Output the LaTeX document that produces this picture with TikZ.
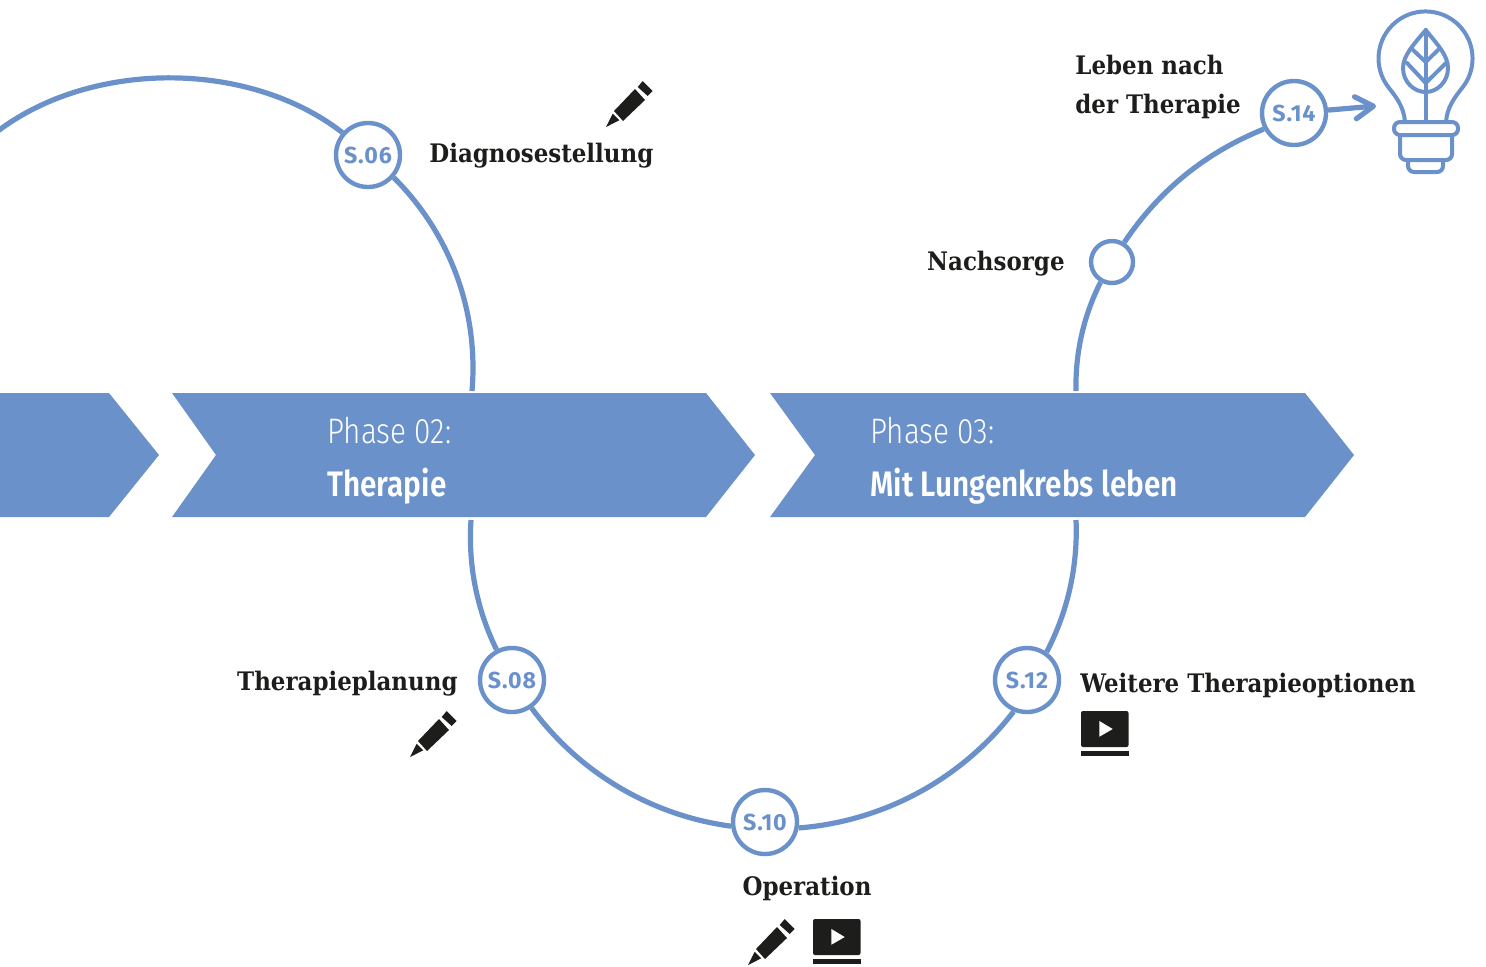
\documentclass[tikz,border=0pt]{standalone}
\usepackage{fontspec}
\usepackage{xcolor}
\usepackage{tikz}
\usetikzlibrary{arrows.meta}

\setmainfont{Fira Sans}
\newfontfamily\slabfont{DejaVu Serif Condensed}
\newfontfamily\phasefont[FakeStretch=0.84,UprightFont=* Light,BoldFont=* SemiBold]{Fira Sans}
\newfontfamily\stopfont[LetterSpace=4,UprightFont=* Bold]{Fira Sans}

\definecolor{phaseblue}{HTML}{6B91CA}
\definecolor{inkblack}{HTML}{1D1D1B}

\tikzset{
    stopnode/.style={circle, draw=phaseblue, line width=2.2pt, fill=white, minimum size=32pt, inner sep=0pt,
        text=phaseblue, font=\fontsize{11.6}{12}\selectfont\stopfont},
    smallstop/.style={stopnode, minimum size=21pt},
    route/.style={draw=phaseblue, line width=2.6pt},
    chevron/.style={fill=phaseblue},
    steptext/.style={anchor=west, inner sep=0pt, text=inkblack, font=\fontsize{12.75}{19.5}\selectfont\slabfont\bfseries},
    phasetext/.style={anchor=west, inner sep=0pt, text=white, font=\fontsize{17.7}{20}\selectfont\phasefont},
    pencil/.pic={
        \fill[inkblack] (0,0) -- (6.7,-13.3) -- (13.3,-6.7) -- cycle;
        \fill[inkblack] (8,-16) -- (29,-38) -- (39,-27) -- (17,-6) -- cycle;
        \fill[inkblack] (31.7,-40) -- (36.7,-46) -- (46.7,-36) -- (41.7,-31) -- cycle;
    },
    video/.pic={
        \fill[inkblack, rounded corners=1pt] (0,0) rectangle (47.5,36);
        \fill[inkblack] (0,40) rectangle (47.5,45);
        \fill[white] (18.4,10) -- (31.7,18) -- (18.4,25.7) -- cycle;
    }
}

\begin{document}
\begin{tikzpicture}[x=0.5pt, y=-0.5pt]
    \useasboundingbox (0,0) rectangle (1486,966);

    % Phase arrows
    \fill[chevron] (-5,393) -- (109,393) -- (159,455) -- (109,517) -- (-5,517) -- cycle;
    \fill[chevron] (172,393) -- (706,393) -- (755,455) -- (706,517) -- (172,517) -- (216,455) -- cycle;
    \fill[chevron] (770,393) -- (1305,393) -- (1354,455) -- (1305,517) -- (770,517) -- (815,455) -- cycle;

    \node[phasetext] (phase2) at (327,431) {Phase 02:};
    \node[phasetext, font=\fontsize{17.7}{20}\selectfont\phasefont\bfseries] (therapie) at (327,486) {Therapie};
    \node[phasetext] (phase3) at (870,431) {Phase 03:};
    \node[phasetext, font=\fontsize{17.7}{20}\selectfont\phasefont\bfseries] (leben) at (870,486) {Mit Lungenkrebs leben};

    % Stops
    \node[stopnode] (s06) at (368,155) {S.06};
    \node[stopnode] (s08) at (512,680) {S.08};
    \node[stopnode] (s10) at (765,822) {S.10};
    \node[stopnode] (s12) at (1027,680) {S.12};
    \node[smallstop] (nach) at (1112,262) {};
    \node[stopnode] (s14) at (1294,113) {S.14};

    % Free ends of the route
    \coordinate (startleft) at (-6,134);
    \coordinate (topleft) at (472,391);
    \coordinate (botleft) at (471,520);
    \coordinate (botright) at (1076,520);
    \coordinate (topright) at (1076,391);
    \coordinate (bulbtip) at (1376,106);

    % Route
    \draw[route] (startleft) to[bend left=38, looseness=0.88] (s06);
    \draw[route] (s06) to[bend left=25, looseness=0.9] (topleft);
    \draw[route] (botleft) to[bend right=15, looseness=0.87] (s08.117);
    \draw[route] (s08.-55) to[bend right=23, looseness=0.89] (s10.-173);
    \draw[route] (s10.-10) to[bend right=24, looseness=0.89] (s12.-113);
    \draw[route] (s12.55) to[bend right=15, looseness=0.87] (botright);
    \draw[route] (topright) to[bend left=14, looseness=0.87] (nach);
    \draw[route] (nach.58) to[bend left=17, looseness=0.9] (s14.-152);
    \draw[route, -{Straight Barb[length=9pt, width=11pt, round]}] (s14) -- (bulbtip);

    % Labels
    \node[steptext] (diag) at (429,156) {Diagnosestellung};
    \node[steptext, anchor=east] (plan) at (458,684) {Therapieplanung};
    \node[steptext, anchor=north] (op) at (807,876) {Operation};
    \node[steptext] (weitere) at (1080,685) {Weitere Therapieoptionen};
    \node[steptext, anchor=east] (nachlabel) at (1065,264) {Nachsorge};
    \node[steptext, align=left] (lebenlabel) at (1075,87) {Leben nach\\der Therapie};

    % Icons
    \pic at (606,127) {pencil};
    \pic at (410,757) {pencil};
    \pic at (748,965) {pencil};
    \pic at (1081,711) {video};
    \pic at (813,919) {video};

    % Bulb
    \begin{scope}[draw=phaseblue, line width=2pt, line cap=round, line join=round]
        \draw (1405,122) .. controls (1404,107) and (1396,97) .. (1389,88)
            arc[start angle=141, delta angle=258, radius=47]
            .. controls (1455,97) and (1447,107) .. (1446,122);
        \draw[rounded corners=3pt] (1394,122) rectangle (1458,135);
        \draw[rounded corners=3pt] (1400,135) -- (1400,160) -- (1452,160) -- (1452,135);
        \draw[rounded corners=3pt] (1408,160) -- (1408,172) -- (1443,172) -- (1443,160);
        \draw (1425.7,122) -- (1425.7,30);
        \draw (1425.7,30) .. controls (1415,43) and (1403,55) .. (1403,68)
            .. controls (1403,82) and (1414,92) .. (1425.7,92)
            .. controls (1437,92) and (1448,82) .. (1448,68)
            .. controls (1448,55) and (1436,43) .. (1425.7,30) -- cycle;
        \draw (1413,50) -- (1425.7,62) -- (1438,50);
        \draw (1407,63) -- (1425.7,83) -- (1446,63);
    \end{scope}
\end{tikzpicture}
\end{document}
